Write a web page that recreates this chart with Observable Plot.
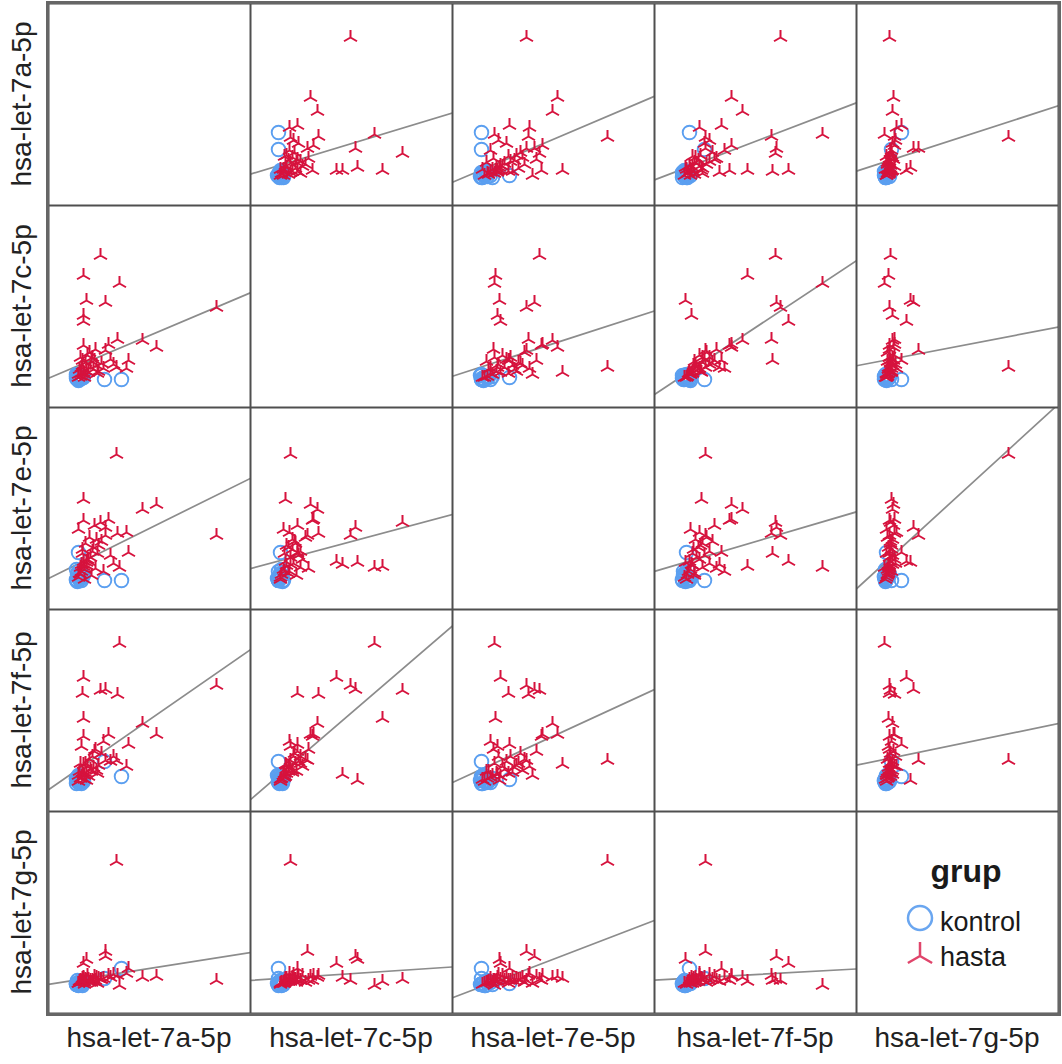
<!DOCTYPE html>
<html><head><meta charset="utf-8">
<script src="https://cdn.jsdelivr.net/npm/d3@7"></script>
<script src="https://cdn.jsdelivr.net/npm/@observablehq/plot@0.6"></script>
<style>
body{margin:0;background:#fff;}
#root{position:relative;width:1062px;height:1064px;font-family:"Liberation Sans",Arial,sans-serif;color:#222;overflow:hidden;background:#fff;}
.cell{position:absolute;}
.cell svg{overflow:hidden;display:block;}
.rowlab{position:absolute;font-size:28px;line-height:28px;white-space:nowrap;transform:translate(-50%,-50%) rotate(-90deg);}
.collab{position:absolute;font-size:28px;line-height:28px;white-space:nowrap;transform:translateX(-50%);}
.leg{position:absolute;white-space:nowrap;}
</style></head><body><div id="root"></div>
<script>
// ---- data (relative expression) ----
const varNames = ["hsa-let-7a-5p","hsa-let-7c-5p","hsa-let-7e-5p","hsa-let-7f-5p","hsa-let-7g-5p"];
const groups = ["kontrol","hasta"];
const grup = [
  ...Array(18).fill("kontrol"),
  ...Array(47).fill("hasta")
];
const let7a = [7.3,5.6,3.0,2.8,3.0,3.1,2.9,3.3,3.2,2.8,3.0,3.4,3.1,2.9,3.3,3.0,3.5,2.8,
  16.8,10.8,9.4,8.0,7.8,6.8,6.9,7.1,5.7,5.2,5.7,3.5,3.5,3.5,3.5,6.0,3.5,3.8,3.4,
  3.0,3.2,3.3,3.6,3.8,3.1,4.0,4.2,3.4,4.5,3.7,4.8,4.4,5.0,4.1,3.0,4.6,5.3,3.3,3.9,6.2,4.7,5.5,3.6,4.3,6.5,3.2,4.9];
const let7c = [2.8,2.8,3.0,2.9,2.8,3.1,3.2,2.9,3.0,3.3,2.8,3.1,2.9,3.0,3.2,2.7,3.0,3.1,
  10.0,6.0,6.7,4.7,3.9,4.0,6.8,12.4,10.5,15.2,5.7,6.2,9.2,8.6,13.2,6.3,3.5,10.7,4.7,
  3.0,3.1,3.4,3.3,3.6,3.8,3.5,4.0,4.2,3.8,4.5,4.2,5.0,3.6,5.5,3.3,4.7,4.4,4.0,5.2,4.8,5.8,3.9,3.0,4.6,4.3,5.0,3.4];
const let7e = [2.9,2.9,5.7,3.0,3.2,3.4,2.8,3.1,3.6,2.9,3.8,3.3,3.0,3.5,2.9,3.1,3.4,4.0,
  7.4,10.5,10.0,5.7,7.7,15.5,7.6,4.2,8.2,8.7,7.4,8.9,4.5,4.8,4.3,9.0,11.0,4.7,5.6,
  3.2,3.5,3.8,4.0,4.4,3.6,4.8,5.2,6.0,6.2,6.6,7.0,5.8,6.4,7.2,8.0,8.4,6.8,4.5,5.0,5.4,4.1,3.8,3.0,3.4,4.6,4.2,5.6];
const let7f = [3.5,5.0,3.2,2.8,3.0,2.9,3.1,3.3,3.0,3.2,2.9,3.1,3.4,3.0,2.8,3.6,3.0,3.3,
  12.6,7.7,8.8,6.7,4.5,5.1,11.7,16.8,12.2,12.1,5.1,7.5,3.7,13.4,9.3,7.7,4.7,3.1,11.8,
  3.0,3.3,3.4,3.6,3.8,4.0,3.5,4.2,3.9,4.4,4.8,4.1,5.5,4.6,5.2,3.6,6.0,5.8,6.5,4.5,5.0,6.2,7.0,3.2,4.0,5.5,4.8,3.8];
const let7g = [4.5,3.5,3.0,3.0,2.8,3.1,2.9,3.0,3.2,2.9,3.1,2.8,3.0,3.3,2.9,3.0,3.1,2.9,
  3.3,3.7,3.6,4.5,4.0,15.2,3.8,2.8,5.7,3.4,6.2,3.3,3.6,5.0,3.2,3.8,3.5,5.4,3.3,
  3.0,3.1,3.2,3.1,3.3,3.2,3.4,3.3,3.5,3.2,3.4,3.6,3.3,3.5,3.1,3.0,3.7,3.4,3.2,3.8,3.6,3.3,3.5,2.9,3.1,3.9,3.3,3.0];

const colors = {kontrol: "#5b9ff0", hasta: "#d6123d"};
const DOMAIN = [0, 20.2];
const CELL = 202, X0 = 48, Y0 = 3;

const cols = [let7a, let7c, let7e, let7f, let7g];
const subjects = d3.range(grup.length).map(i => ({grup: grup[i], v: cols.map(c => c[i])}));

// tri-star marker (stem up, arms down-left / down-right)
const tri = {
  draw(context, size) {
    const L = Math.sqrt(size / Math.PI);
    context.moveTo(0, 0); context.lineTo(0, -L);
    context.moveTo(0, 0); context.lineTo(L * 0.866, L * 0.5);
    context.moveTo(0, 0); context.lineTo(-L * 0.866, L * 0.5);
  }
};

const root = document.getElementById("root");

for (let r = 0; r < 5; r++) {
  for (let c = 0; c < 5; c++) {
    let marks = [];
    if (r !== c) {
      const pts = subjects.map(d => ({x: d.v[c], y: d.v[r], grup: d.grup}));
      const mx = d3.mean(pts, d => d.x), my = d3.mean(pts, d => d.y);
      const sxy = d3.sum(pts, d => (d.x - mx) * (d.y - my));
      const sxx = d3.sum(pts, d => (d.x - mx) ** 2);
      const b = sxy / sxx, a = my - b * mx;
      const fit = DOMAIN.map(x => ({x, y: a + b * x}));
      marks = [
        Plot.line(fit, {x: "x", y: "y", stroke: "#8c8c8c", strokeWidth: 1.7, clip: true}),
        Plot.dot(pts.filter(d => d.grup === "kontrol"), {x: "x", y: "y", r: 6.8, stroke: colors.kontrol, strokeWidth: 1.9, fill: "none"}),
        Plot.dot(pts.filter(d => d.grup === "hasta"), {x: "x", y: "y", r: 7.5, symbol: tri, stroke: colors.hasta, strokeWidth: 2, fill: "none"})
      ];
    }
    marks.push(Plot.frame({stroke: "#4f4f4f", strokeWidth: 2}));
    const svg = Plot.plot({
      width: CELL, height: CELL, margin: 0,
      x: {domain: DOMAIN, axis: null},
      y: {domain: DOMAIN, axis: null},
      marks
    });
    const div = document.createElement("div");
    div.className = "cell";
    div.style.left = (X0 + c * CELL) + "px";
    div.style.top = (Y0 + r * CELL) + "px";
    div.appendChild(svg);
    root.appendChild(div);
  }
}

// outer border
const border = document.createElement("div");
Object.assign(border.style, {position: "absolute", left: "46px", top: "1px", width: (5 * CELL + 5) + "px", height: (5 * CELL + 5) + "px", border: "3px solid #666", boxSizing: "border-box"});
root.appendChild(border);

// labels
varNames.forEach((name, i) => {
  const rl = document.createElement("div");
  rl.className = "rowlab";
  rl.textContent = name;
  rl.style.left = "22px";
  rl.style.top = (Y0 + i * CELL + CELL / 2) + "px";
  root.appendChild(rl);
  const cl = document.createElement("div");
  cl.className = "collab";
  cl.textContent = name;
  cl.style.left = (X0 + i * CELL + CELL / 2) + "px";
  cl.style.top = "1024px";
  root.appendChild(cl);
});

// legend in bottom-right cell
function addText(txt, left, top, size, weight, center) {
  const d = document.createElement("div");
  d.className = "leg";
  d.textContent = txt;
  Object.assign(d.style, {left: left + "px", top: top + "px", fontSize: size + "px", lineHeight: size + "px", fontWeight: weight, color: "#1a1a1a"});
  if (center) d.style.transform = "translateX(-50%)";
  root.appendChild(d);
}
addText("grup", 966, 855, 32, "bold", true);
addText(groups[0], 940, 909, 27, "normal", false);
addText(groups[1], 940, 944, 27, "normal", false);
const ns = "http://www.w3.org/2000/svg";
const ls = document.createElementNS(ns, "svg");
ls.setAttribute("width", 40); ls.setAttribute("height", 80);
Object.assign(ls.style, {position: "absolute", left: "900px", top: "898px"});
const circ = document.createElementNS(ns, "circle");
circ.setAttribute("cx", 20); circ.setAttribute("cy", 20); circ.setAttribute("r", 12);
circ.setAttribute("fill", "none"); circ.setAttribute("stroke", "#6aa6f0"); circ.setAttribute("stroke-width", 2.5);
ls.appendChild(circ);
const tp = document.createElementNS(ns, "path");
const p = d3.path(); tri.draw(p, Math.PI * 14 * 14);
tp.setAttribute("d", p.toString());
tp.setAttribute("transform", "translate(20,58)");
tp.setAttribute("fill", "none"); tp.setAttribute("stroke", "#e0456b"); tp.setAttribute("stroke-width", 2.5);
ls.appendChild(tp);
root.appendChild(ls);
</script></body></html>
